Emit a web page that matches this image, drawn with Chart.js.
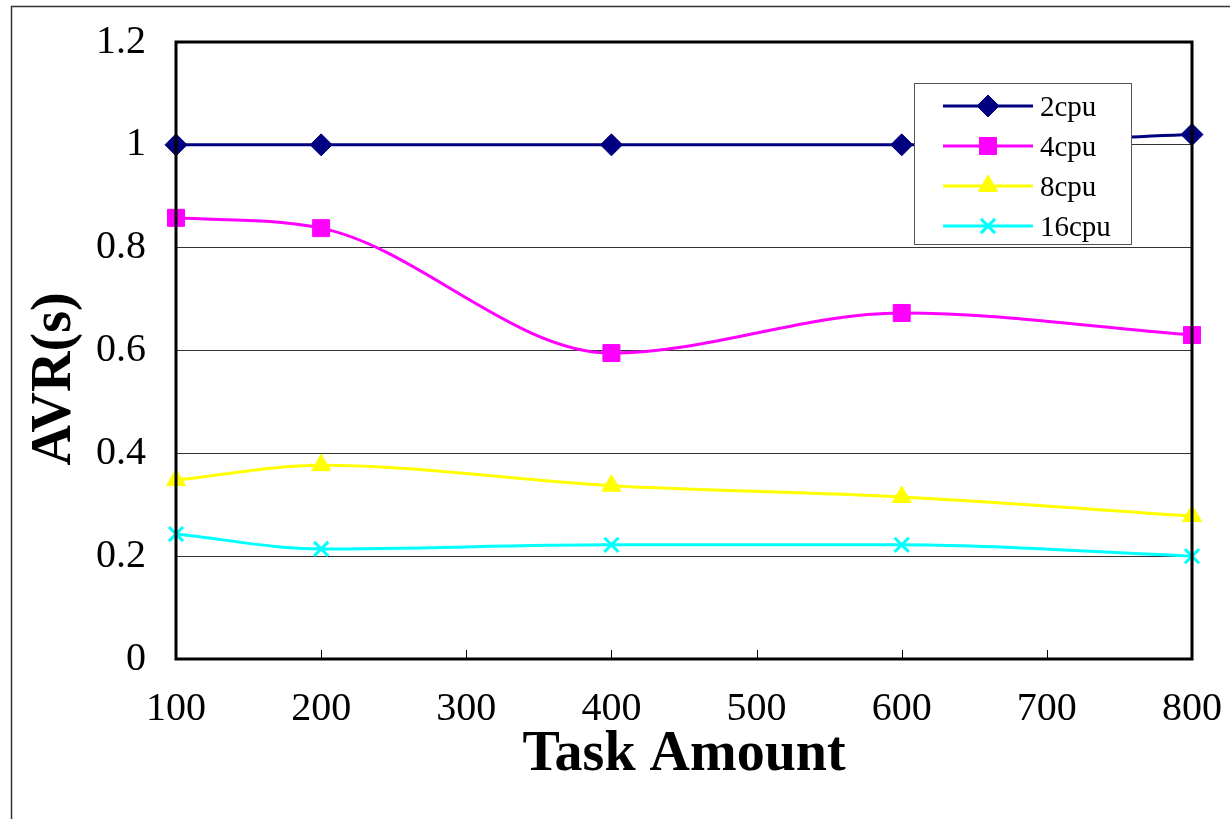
<!DOCTYPE html>
<html>
<head>
<meta charset="utf-8">
<script src="https://cdn.jsdelivr.net/npm/chart.js@4.4.1/dist/chart.umd.min.js"></script>
<style>
  html, body { margin: 0; padding: 0; background: #fff; }
  #wrap { width: 1230px; height: 819px; position: relative; }
</style>
</head>
<body>
<div id="wrap"><canvas id="chartCanvas"></canvas></div>
<script>
// values
const taskAmounts = [100, 200, 400, 600, 800];
const cpu2 = [1.0, 1.0, 1.0, 1.0, 1.02];
const cpu4 = [0.858, 0.838, 0.595, 0.673, 0.630];
const cpu8 = [0.348, 0.377, 0.337, 0.315, 0.278];
const cpu16 = [0.243, 0.214, 0.222, 0.222, 0.200];
const xTicks = [100, 200, 300, 400, 500, 600, 700, 800];
const yTicks = [0, 0.2, 0.4, 0.6, 0.8, 1, 1.2];
const yTitle = 'AVR(s)';

function pts(vals) {
    return taskAmounts.map((x, i) => ({ x: x, y: vals[i] }));
}

function series(label, vals, color, style, radius) {
    return {
        label: label,
        data: pts(vals),
        borderColor: color,
        backgroundColor: color,
        borderWidth: 3,
        pointStyle: style,
        pointRadius: radius,
        pointBorderWidth: style === 'crossRot' ? 3 : 1,
        pointBorderColor: color,
        pointBackgroundColor: color,
        cubicInterpolationMode: 'monotone',
        clip: false
    };
}

const serif = '"Liberation Serif", "DejaVu Serif", serif';

function noPad(scale) {
    scale.paddingLeft = 0;
    scale.paddingRight = 0;
    scale.paddingTop = 0;
    scale.paddingBottom = 0;
}

// plot frame, inner tick marks, outer border, y title
const framePlugin = {
    id: 'frame',
    beforeDraw(chart) {
        const ctx = chart.ctx;
        ctx.save();
        ctx.fillStyle = '#fff';
        ctx.fillRect(0, 0, chart.width, chart.height);
        ctx.strokeStyle = '#333';
        ctx.lineWidth = 1.5;
        ctx.strokeRect(11.5, 6.5, chart.width + 20, chart.height + 20);
        // y axis title (placed a little below the plot's middle, as in the original)
        ctx.translate(56, 379);
        ctx.rotate(-Math.PI / 2);
        ctx.fillStyle = '#000';
        ctx.font = 'bold 56px ' + serif;
        ctx.textAlign = 'center';
        ctx.textBaseline = 'middle';
        ctx.fillText(yTitle, 0, 0);
        ctx.restore();
    },
    afterDatasetsDraw(chart) {
        const ctx = chart.ctx;
        const a = chart.chartArea;
        const xs = chart.scales.x;
        ctx.save();
        ctx.strokeStyle = '#000';
        ctx.lineWidth = 1;
        xTicks.forEach(v => {
            const px = Math.round(xs.getPixelForValue(v)) + 0.5;
            ctx.beginPath();
            ctx.moveTo(px, a.bottom);
            ctx.lineTo(px, a.bottom - 9);
            ctx.stroke();
        });
        ctx.lineWidth = 3;
        ctx.strokeRect(a.left, a.top, a.right - a.left, a.bottom - a.top);
        ctx.restore();
    }
};

// legend box inside the plot, drawn over the lines
const legendPlugin = {
    id: 'boxLegend',
    afterDraw(chart) {
        const ctx = chart.ctx;
        const bx = 914, by = 83, bw = 217, bh = 161;
        ctx.save();
        ctx.fillStyle = '#fff';
        ctx.fillRect(bx, by, bw, bh);
        ctx.strokeStyle = '#555';
        ctx.lineWidth = 1;
        ctx.strokeRect(bx + 0.5, by + 0.5, bw, bh);
        chart.data.datasets.forEach((ds, i) => {
            const y = by + 23 + i * 40;
            ctx.strokeStyle = ds.borderColor;
            ctx.lineWidth = 3;
            ctx.beginPath();
            ctx.moveTo(bx + 29, y);
            ctx.lineTo(bx + 119, y);
            ctx.stroke();
            ctx.fillStyle = ds.borderColor;
            ctx.lineWidth = ds.pointBorderWidth;
            Chart.helpers.drawPoint(ctx, {
                pointStyle: ds.pointStyle,
                radius: ds.pointRadius,
                rotation: 0,
                borderWidth: ds.pointBorderWidth
            }, bx + 74, y);
            ctx.fillStyle = '#000';
            ctx.font = '29px ' + serif;
            ctx.textBaseline = 'middle';
            ctx.fillText(ds.label, bx + 126, y + 2);
        });
        ctx.restore();
    }
};

const ctx = document.getElementById('chartCanvas').getContext('2d');

const myChart = new Chart(ctx, {
    type: 'line',
    data: {
        datasets: [
            series('2cpu', cpu2, '#000080', 'rectRot', 11),
            series('4cpu', cpu4, '#ff00ff', 'rect', 12),
            series('8cpu', cpu8, '#ffff00', 'triangle', 11),
            series('16cpu', cpu16, '#00ffff', 'crossRot', 10)
        ]
    },
    options: {
        responsive: true,
        maintainAspectRatio: false,
        animation: false,
        devicePixelRatio: 1,
        layout: { padding: { top: 42, right: 38, left: 0, bottom: 0 } },
        plugins: {
            legend: { display: false },
            tooltip: { enabled: false }
        },
        scales: {
            x: {
                type: 'linear',
                min: 100,
                max: 800,
                afterBuildTicks(scale) {
                    scale.ticks = xTicks.map(v => ({ value: v }));
                },
                afterFit(scale) { scale.height = 160; noPad(scale); },
                grid: { display: false, drawTicks: false },
                border: { display: false },
                ticks: {
                    color: '#000',
                    padding: 26,
                    font: { family: serif, size: 40 },
                    maxRotation: 0
                },
                title: {
                    display: true,
                    text: 'Task Amount',
                    color: '#000',
                    font: { family: serif, size: 56, weight: 'bold' },
                    padding: { top: 0, bottom: 30 }
                }
            },
            y: {
                min: 0,
                max: 1.2,
                afterBuildTicks(scale) {
                    scale.ticks = yTicks.map(v => ({ value: v }));
                },
                afterFit(scale) { scale.width = 176; noPad(scale); },
                grid: {
                    color: '#333',
                    lineWidth: 1,
                    drawTicks: false
                },
                border: { display: false },
                ticks: {
                    color: '#000',
                    padding: 30,
                    font: { family: serif, size: 40 },
                    callback: v => String(Math.round(v * 10) / 10)
                },
                title: { display: false }
            }
        }
    },
    plugins: [framePlugin, legendPlugin]
});
</script>
</body>
</html>
